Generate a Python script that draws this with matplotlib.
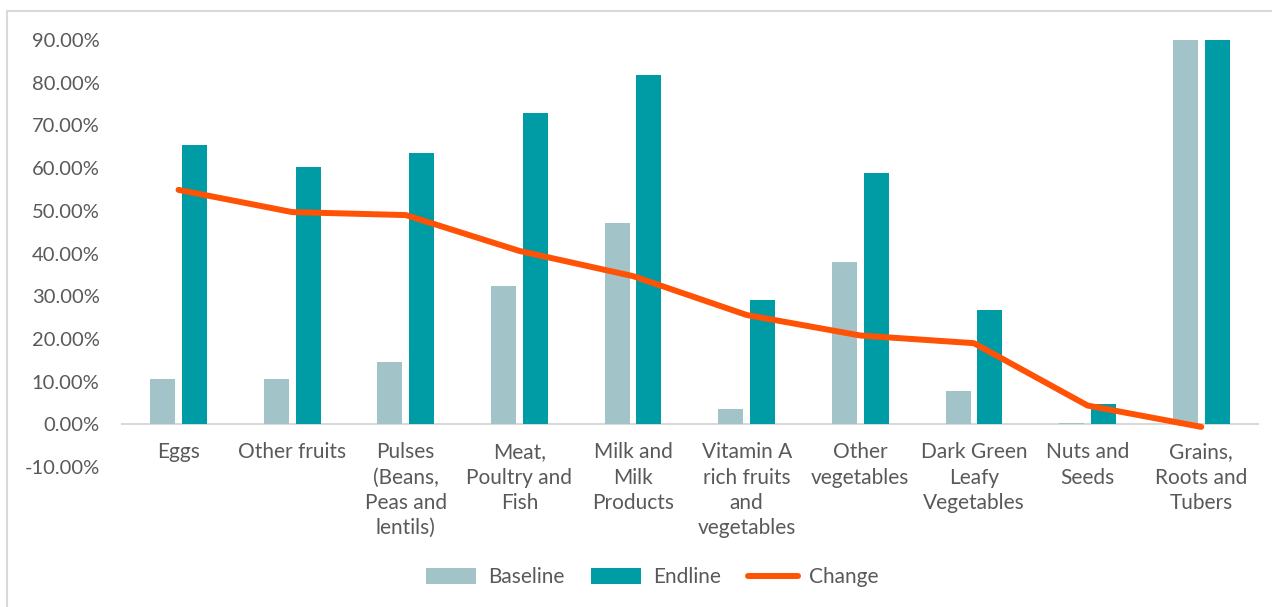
import numpy as np
import matplotlib.pyplot as plt
from matplotlib.patches import Rectangle
from matplotlib.ticker import FuncFormatter

categories = ['Eggs', 'Other fruits', 'Pulses\n(Beans,\nPeas and\nlentils)',
              'Meat,\nPoultry and\nFish', 'Milk and\nMilk\nProducts',
              'Vitamin A\nrich fruits\nand\nvegetables', 'Other\nvegetables',
              'Dark Green\nLeafy\nVegetables', 'Nuts and\nSeeds',
              'Grains,\nRoots and\nTubers']
baseline = [10.5, 10.5, 14.5, 32.3, 47.1, 3.5, 38.0, 7.7, 0.3, 95.8]
endline = [65.4, 60.2, 63.5, 72.9, 81.8, 29.1, 58.8, 26.7, 4.7, 95.2]
change = [54.9, 49.7, 49.0, 40.6, 34.7, 25.6, 20.8, 19.0, 4.4, -0.6]

c_base = '#A2C4C9'
c_end = '#009CA6'
c_change = '#FF5204'
txt = '#595959'

plt.rcParams['font.family'] = ['Lato', 'DejaVu Sans']

fig = plt.figure(figsize=(12.72, 6.07), dpi=100)
ax = fig.add_axes([0.0957, 0.2306, 0.8933, 0.7035])

# outer chart frame
fig.add_artist(Rectangle((7 / 1272, -0.5), 1.2, 1.5 - 11 / 607, transform=fig.transFigure,
                         fill=False, edgecolor='#D9D9D9', linewidth=1.5))

x = np.arange(len(categories))
w = 0.22
b1 = ax.bar(x - 0.14, baseline, w, color=c_base, label='Baseline', zorder=2)
b2 = ax.bar(x + 0.14, endline, w, color=c_end, label='Endline', zorder=2)
ln, = ax.plot(x, change, color=c_change, linewidth=4.3, solid_capstyle='round',
              solid_joinstyle='round', label='Change', zorder=3)

ax.set_xlim(-0.5, len(categories) - 0.5)
ax.set_ylim(-10, 90)
ax.set_yticks(np.arange(-10, 91, 10))
ax.yaxis.set_major_formatter(FuncFormatter(lambda v, p: f'{v:.2f}%'))

for s in ['top', 'right', 'left']:
    ax.spines[s].set_visible(False)
ax.spines['bottom'].set_position(('data', 0))
ax.spines['bottom'].set_color('#D9D9D9')
ax.spines['bottom'].set_linewidth(1.5)
ax.spines['bottom'].set_zorder(1)

ax.set_xticks(x)
ax.set_xticklabels(categories, linespacing=1.33)
ax.tick_params(axis='x', length=0, pad=13, labelsize=15, labelcolor=txt)
ax.tick_params(axis='y', length=0, pad=16, labelsize=14.5, labelcolor=txt)

fig.legend([b1, b2, ln], ['Baseline', 'Endline', 'Change'],
           loc='center', bbox_to_anchor=(0.513, 0.049), ncol=3, frameon=False,
           fontsize=15, labelcolor=txt, handlelength=2.4, handleheight=0.75,
           handletextpad=0.55, columnspacing=1.3)

fig.savefig('out.png', dpi=100)
